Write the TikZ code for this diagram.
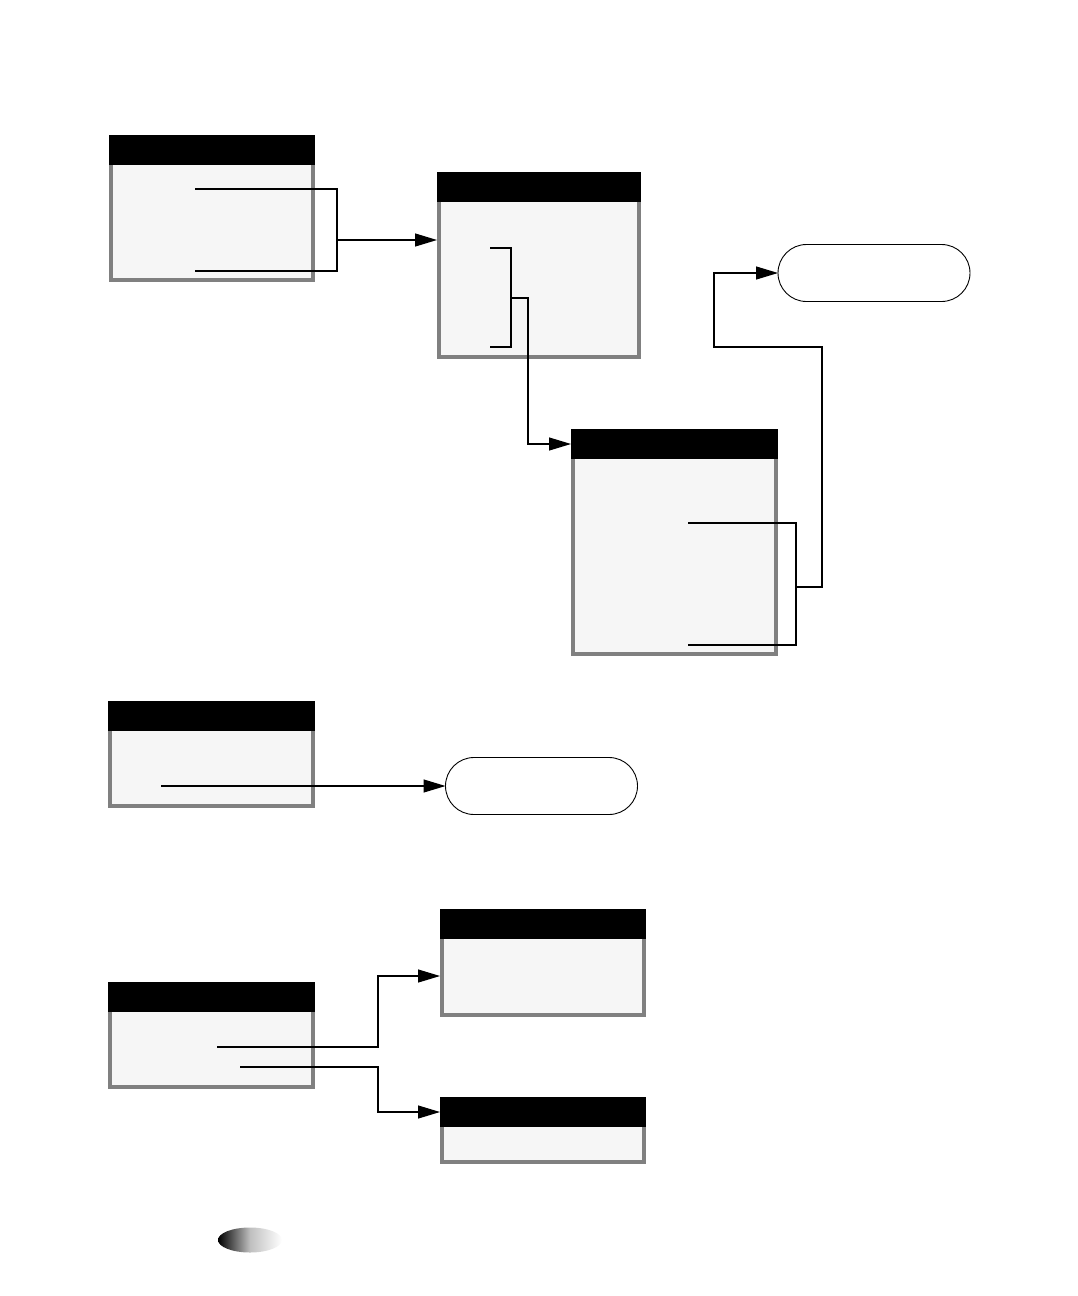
\documentclass[tikz,border=0pt]{standalone}
\usetikzlibrary{arrows.meta,shapes.misc}

\begin{document}
\begin{tikzpicture}[x=1pt,y=-1pt]
    % Define styles
    \tikzset{
      tablebody/.style={draw=gray, line width=4pt, fill=gray!7, rectangle, inner sep=0pt, outer sep=0pt, anchor=north west},
      tablehead/.style={fill=black, rectangle, inner sep=0pt, outer sep=0pt, minimum height=30pt, anchor=south},
      pill/.style={draw, line width=0.9pt, rounded rectangle, minimum width=192pt, minimum height=57pt, inner sep=0pt, outer sep=0pt},
      link/.style={line width=1.2pt},
      arrow/.style={link, -{Triangle[length=22pt,width=13pt]}}
    }
    \useasboundingbox (0,0) rectangle (1078,1296);

    % Draw the tables
    \foreach \name/\x/\y/\w/\h in {A/109/135/206/147, B/437/172/204/187, C/571/429/207/227,
                                   D/108/701/207/107, E/440/909/206/108, F/108/982/207/107,
                                   G/440/1097/206/67} {
        \node(\name)[tablebody, minimum width=\w pt-4pt, minimum height=\h pt-30pt] at (\x+2, \y+28) {};
        \node(\name-h)[tablehead, minimum width=\w pt] at ([yshift=-2pt]\name.north) {};
      }

    % Draw the end states
    \node(P1)[pill] at (874,273) {};
    \node(P2)[pill] at (541.5,786) {};

    % Coordinates of the connectors
    \coordinate (a1) at (195,189);
    \coordinate (a2) at (195,271);
    \coordinate (jA) at (337,240);
    \coordinate (b1) at (490,248);
    \coordinate (b2) at (490,347);
    \coordinate (jB) at (511,298);
    \coordinate (kB) at (528,298);
    \coordinate (c1) at (688,523);
    \coordinate (c2) at (688,645);
    \coordinate (jC) at (796,587);
    \coordinate (kC1) at (822,347);
    \coordinate (kC2) at (714,347);
    \coordinate (d1) at (161,786);
    \coordinate (f1) at (217,1047);
    \coordinate (kF1) at (378,1047);
    \coordinate (f2) at (240,1067);
    \coordinate (kF2) at (378,1067);

    % Draw the connectors
    \draw[link] (a1) -| (jA) |- (a2);
    \draw[arrow] (jA) -- (jA -| B-h.west);

    \draw[link] (b1) -| (jB) |- (b2);
    \draw[arrow] (jB) -- (kB) |- (C-h.west);

    \draw[link] (c1) -| (jC) |- (c2);
    \draw[arrow] (jC) -| (kC1) -- (kC2) |- (P1.west);

    \draw[arrow] (d1) -- (d1 -| P2.west);

    \draw[arrow] (f1) -- (kF1) |- (E-h.west |- E.west);
    \draw[arrow] (f2) -- (kF2) |- (G-h.west);

    % Page marker
    \shade[left color=black, right color=white, middle color=white!75!black]
      (250,1240) ellipse [x radius=32pt, y radius=12.5pt];
  \end{tikzpicture}
\end{document}
